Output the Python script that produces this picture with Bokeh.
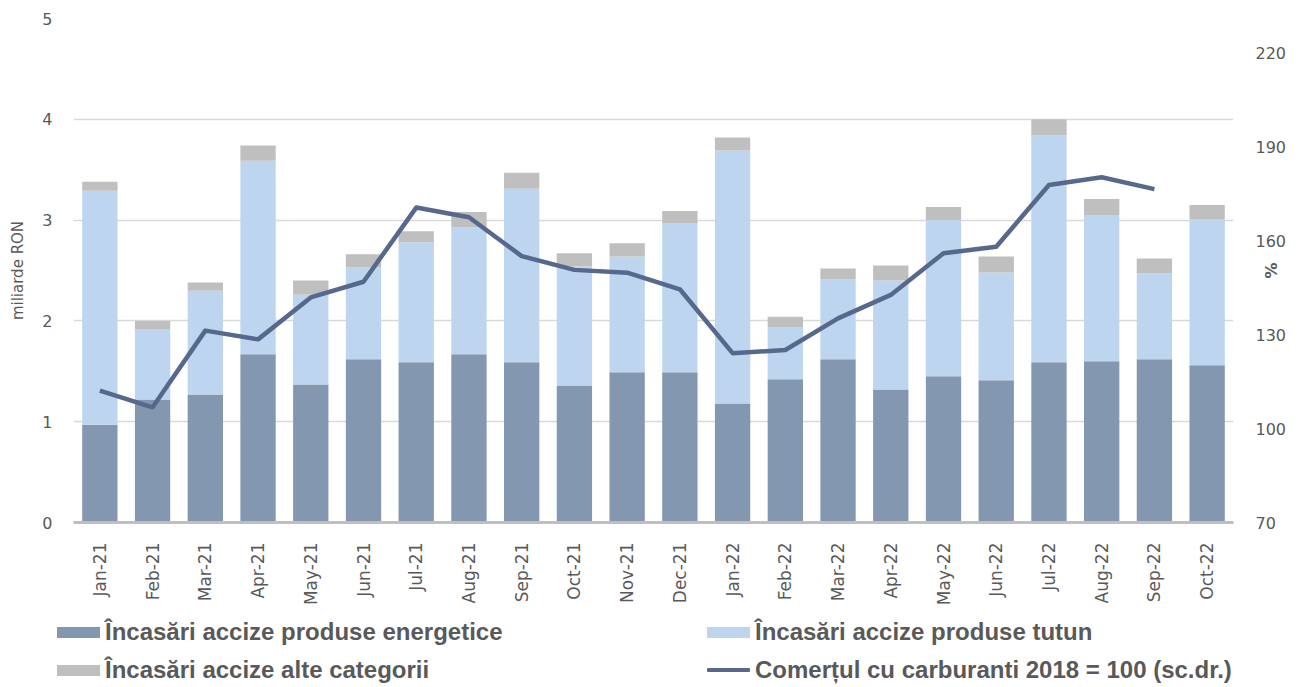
from bokeh.plotting import figure
from bokeh.layouts import column
from bokeh.models import (ColumnDataSource, Range1d, LinearAxis, FixedTicker, FactorRange, Div)
from bokeh.embed import file_html
from bokeh.resources import INLINE
import math

months = ["Jan-21", "Feb-21", "Mar-21", "Apr-21", "May-21", "Jun-21", "Jul-21",
          "Aug-21", "Sep-21", "Oct-21", "Nov-21", "Dec-21", "Jan-22", "Feb-22",
          "Mar-22", "Apr-22", "May-22", "Jun-22", "Jul-22", "Aug-22", "Sep-22", "Oct-22"]

# miliarde RON
energetice = [0.97, 1.22, 1.27, 1.67, 1.37, 1.62, 1.59, 1.67, 1.59, 1.36, 1.49,
              1.49, 1.18, 1.42, 1.62, 1.32, 1.45, 1.41, 1.59, 1.60, 1.62, 1.56]
tutun = [2.32, 0.70, 1.03, 1.92, 0.89, 0.91, 1.19, 1.26, 1.72, 1.18, 1.15,
         1.48, 2.51, 0.52, 0.79, 1.08, 1.55, 1.07, 2.25, 1.45, 0.85, 1.45]
alte = [0.09, 0.08, 0.08, 0.15, 0.14, 0.13, 0.11, 0.15, 0.16, 0.13, 0.13,
        0.12, 0.13, 0.10, 0.11, 0.15, 0.13, 0.16, 0.16, 0.16, 0.15, 0.14]

# Comertul cu carburanti 2018 = 100 (sc.dr.)
carburanti = [112.1, 106.8, 131.3, 128.5, 141.9, 146.9, 170.6, 167.5, 155.1,
              150.7, 149.8, 144.5, 124.1, 125.1, 135.2, 142.7, 156.0, 158.1,
              177.8, 180.3, 176.5]

left_ticks = [0, 1, 2, 3, 4, 5]
right_ticks = [70, 100, 130, 160, 190, 220]

bar_labels = ["Încasări accize produse energetice", "Încasări accize produse tutun",
              "Încasări accize alte categorii"]
line_label = "Comerțul cu carburanti 2018 = 100 (sc.dr.)"
bar_colors = ["#8497B0", "#BDD5EE", "#BFBFBF"]
line_color = "#56698C"

TXT = "#595959"
W = 1291
TOP_H = 18 + 504 + 90

src = ColumnDataSource(dict(month=months, energetice=energetice, tutun=tutun, alte=alte))
line_src = ColumnDataSource(dict(month=months[:len(carburanti)], val=carburanti))

p = figure(x_range=FactorRange(*months, range_padding=0), y_range=Range1d(0, 5),
           frame_width=1160, frame_height=504, min_border_left=73, min_border_top=18,
           min_border_right=W - 73 - 1160, min_border_bottom=90,
           output_backend="svg", toolbar_location=None, tools="")
p.outline_line_color = None
p.background_fill_color = "white"

p.extra_y_ranges = {"right": Range1d(70, 231)}

bars = p.vbar_stack(["energetice", "tutun", "alte"], x="month", width=0.67, source=src,
                    color=bar_colors, line_color=None)

ln = p.line(x="month", y="val", source=line_src, y_range_name="right",
            line_color=line_color, line_width=4.5, line_join="round")

# grid
p.xgrid.grid_line_color = None
p.ygrid.grid_line_color = "#D9D9D9"
p.ygrid.grid_line_width = 1.3
p.ygrid.ticker = FixedTicker(ticks=left_ticks)

# left axis
ya = p.yaxis[0]
ya.ticker = FixedTicker(ticks=left_ticks)
ya.axis_line_color = None
ya.major_tick_line_color = None
ya.minor_tick_line_color = None
ya.major_label_text_font = "DejaVu Sans"
ya.major_label_text_font_size = "16px"
ya.major_label_text_color = TXT
ya.major_label_standoff = 15
ya.axis_label = "miliarde RON"
ya.axis_label_text_font = "DejaVu Sans"
ya.axis_label_text_font_size = "15px"
ya.axis_label_text_font_style = "normal"
ya.axis_label_text_color = TXT
ya.axis_label_standoff = 12

# right axis
ra = LinearAxis(y_range_name="right", ticker=FixedTicker(ticks=right_ticks))
ra.axis_line_color = None
ra.major_tick_line_color = None
ra.minor_tick_line_color = None
ra.major_label_text_font = "DejaVu Sans"
ra.major_label_text_font_size = "16px"
ra.major_label_text_color = TXT
ra.major_label_standoff = 16
ra.axis_label = "%"
ra.axis_label_text_font = "DejaVu Sans"
ra.axis_label_text_font_size = "16px"
ra.axis_label_text_font_style = "bold"
ra.axis_label_text_color = TXT
ra.axis_label_standoff = -28
p.add_layout(ra, "right")

# bottom axis
xa = p.xaxis[0]
xa.axis_line_color = "#BFBFBF"
xa.axis_line_width = 3
xa.major_tick_line_color = None
xa.minor_tick_line_color = None
xa.major_label_orientation = math.pi / 2
xa.major_label_text_font = "DejaVu Sans"
xa.major_label_text_font_size = "17px"
xa.major_label_text_color = TXT
xa.major_label_standoff = 14

# ---- legend strip (HTML, pixel-positioned) ----
LH = 687 - TOP_H
row_y = [632 - TOP_H, 670 - TOP_H]
col_x = [57, 707]
sw_w, sw_h, gap = 43, 11, 5

entries = [
    (col_x[0], row_y[0], bar_labels[0], bar_colors[0], sw_h),
    (col_x[1], row_y[0], bar_labels[1], bar_colors[1], sw_h),
    (col_x[0], row_y[1], bar_labels[2], bar_colors[2], sw_h),
    (col_x[1], row_y[1], line_label, line_color, 4.5),
]
parts = []
for x, y, lab, col, h in entries:
    parts.append(
        f'<div style="position:absolute;left:{x}px;top:{y - h / 2}px;width:{sw_w}px;'
        f'height:{h}px;background:{col};border-radius:{1 if h < 6 else 0}px;"></div>'
    )
    parts.append(
        f'<div style="position:absolute;left:{x + sw_w + gap}px;top:{y}px;'
        f'transform:translateY(-50%);white-space:nowrap;line-height:1;">{lab}</div>'
    )
html = (f'<div style="position:relative;width:{W}px;height:{LH}px;'
        f"font-family:'Liberation Sans',Arial,sans-serif;font-weight:bold;font-size:24px;"
        f'color:{TXT};">' + "".join(parts) + "</div>")
lg = Div(text=html, width=W, height=LH, margin=(0, 0, 0, 0))

layout = column(p, lg, spacing=0)
open("out.html", "w").write(file_html(layout, INLINE))
